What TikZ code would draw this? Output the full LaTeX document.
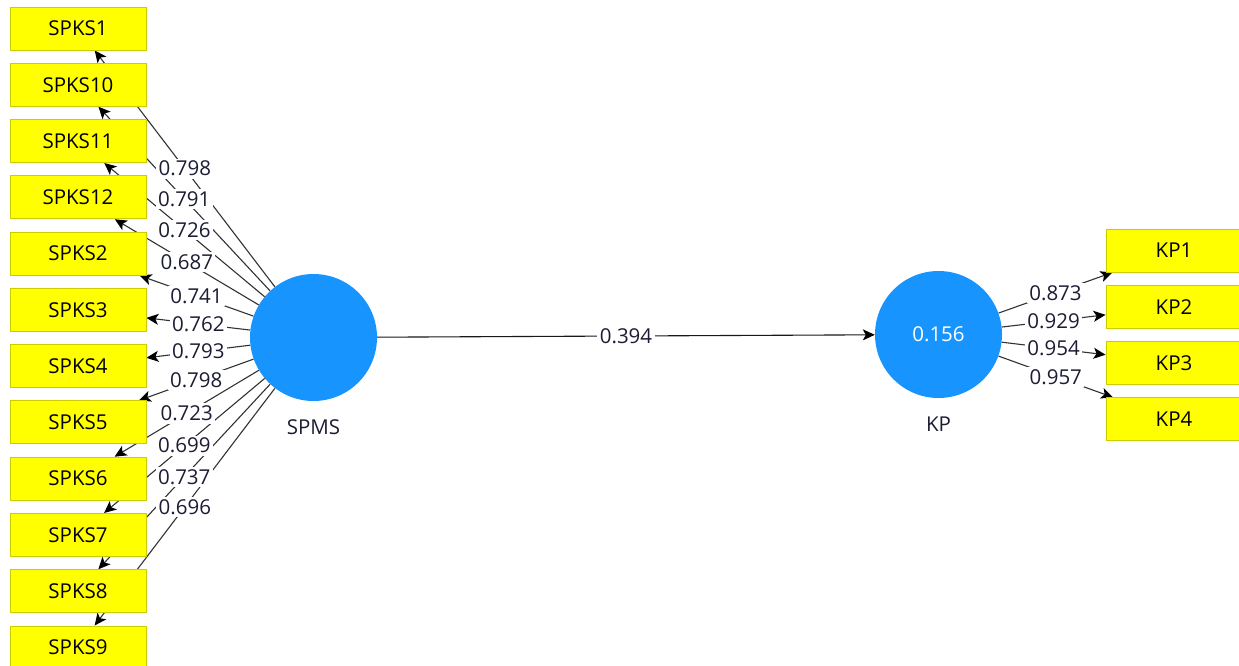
\documentclass[tikz,border=0pt]{standalone}
\usepackage{fontspec}
\setmainfont{Open Sans}
\usetikzlibrary{arrows.meta}

% paths below, coefficient labels above them, shapes on top
\pgfdeclarelayer{lines}
\pgfdeclarelayer{labels}
\pgfsetlayers{lines,labels,main}

\definecolor{indyellow}{RGB}{255,255,0}
\definecolor{indborder}{RGB}{204,204,0}
\definecolor{latblue}{RGB}{24,148,255}
\definecolor{pathgray}{RGB}{50,50,50}
\definecolor{textnavy}{RGB}{28,28,52}

\begin{document}
\begin{tikzpicture}[x=1pt,y=-1pt,
  txt/.style={font=\fontsize{20.5}{24}\selectfont},
  ind/.style={txt, draw=indborder, fill=indyellow, line width=0.9pt,
    minimum width=136pt, minimum height=43pt, inner sep=0pt, text=black},
  lat/.style={txt, circle, fill=latblue, minimum size=127pt, inner sep=0pt},
  latname/.style={txt, text=textnavy},
  load/.style={draw=pathgray, line width=1.1pt,
    -{Stealth[length=12pt,width=11pt,inset=3pt,color=black]}},
  coef/.style={txt, fill=white, inner sep=2.5pt, text=textnavy},
]
\useasboundingbox (0,0) rectangle (1239,666);

% indicators of SPMS
\foreach \n [count=\i from 0] in {1,10,11,12,2,3,4,5,6,7,8,9}
  \node[ind] (s\n) at (78, {28.5+56.27*\i}) {SPKS\n};

% indicators of KP
\foreach \n [count=\i from 0] in {1,2,3,4}
  \node[ind] (k\n) at (1174, {250.5+56.27*\i}) {KP\n};

% latent variables
\node[lat] (spms) at (313.5, 337.5) {};
\node[latname] (spmsname) at (313.5, 427) {SPMS};
\node[lat, text=white] (kp) at (938.5, 334.5) {0.156};
\node[latname] (kpname) at (938.5, 424) {KP};

\begin{pgfonlayer}{lines}
  \foreach \n in {1,10,11,12,2,3,4,5,6,7,8,9}
    \draw[load] (spms) -- coordinate[midway] (ms\n) (s\n);
  \foreach \n in {1,2,3,4}
    \draw[load] (kp) -- coordinate[midway] (mk\n) (k\n);
  \draw[load, draw=black!90] (spms) -- coordinate[midway] (mpath) (kp);
\end{pgfonlayer}

\begin{pgfonlayer}{labels}
  \foreach \n/\v in {1/0.798, 10/0.791, 11/0.726, 12/0.687, 2/0.741,
                     3/0.762, 4/0.793, 5/0.798, 6/0.723, 7/0.699,
                     8/0.737, 9/0.696}
    \node[coef] (cs\n) at (ms\n) {\v};
  \foreach \n/\v in {1/0.873, 2/0.929, 3/0.954, 4/0.957}
    \node[coef] (ck\n) at (mk\n) {\v};
  \node[coef] (cpath) at (mpath) {0.394};
\end{pgfonlayer}
\end{tikzpicture}
\end{document}
